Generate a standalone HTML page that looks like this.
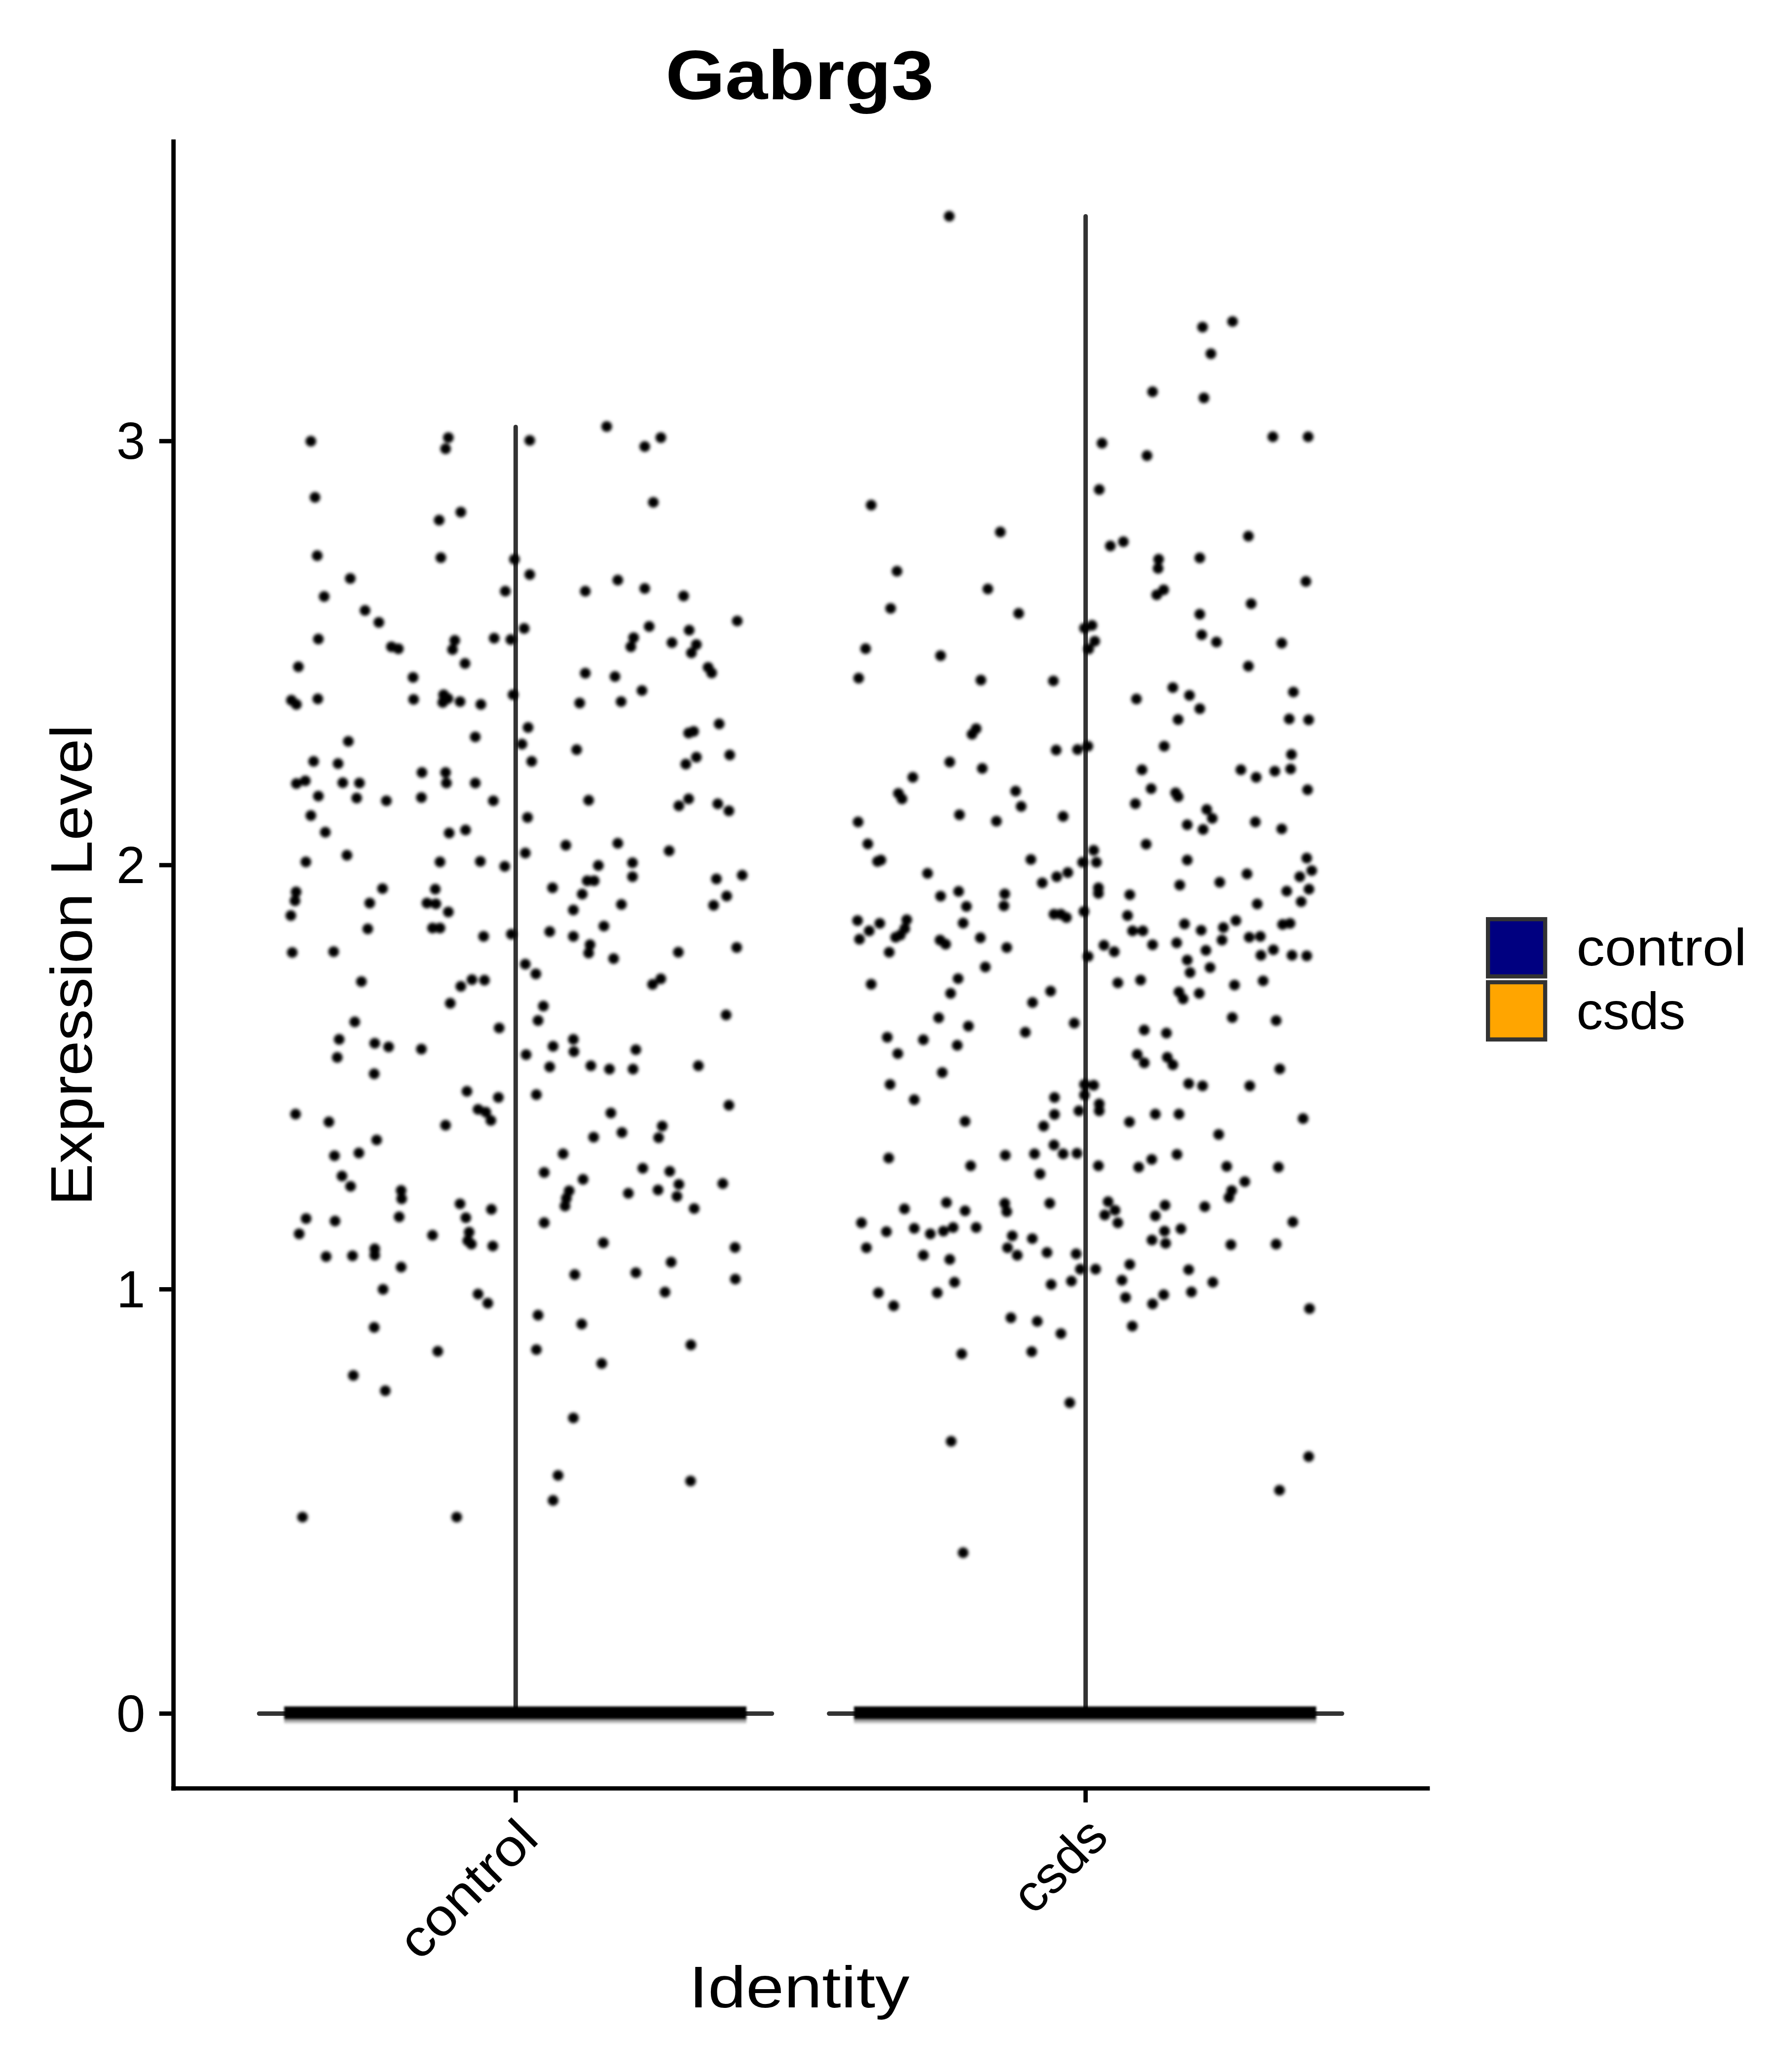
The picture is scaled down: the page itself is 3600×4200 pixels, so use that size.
<!DOCTYPE html>
<html><head><meta charset="utf-8"><style>
html,body{margin:0;padding:0;background:#fff;}
body{width:3600px;height:4200px;overflow:hidden;}
svg{display:block;}
text{font-family:"Liberation Sans",sans-serif;fill:#000;}
</style></head><body>
<svg width="3600" height="4200" viewBox="0 0 3600 4200">
<defs>
<filter id="bl" x="-50%" y="-50%" width="200%" height="200%"><feGaussianBlur stdDeviation="3.4"/></filter>
<linearGradient id="fr" x1="0" y1="0" x2="0" y2="1"><stop offset="0" stop-color="#000" stop-opacity="0.55"/><stop offset="1" stop-color="#000" stop-opacity="0.1"/></linearGradient>
<filter id="bl2" x="-5%" y="-100%" width="110%" height="300%"><feGaussianBlur stdDeviation="2.2"/></filter>
</defs>
<rect width="3600" height="4200" fill="#fff"/>
<!-- title -->
<text x="1621" y="201.4" text-anchor="middle" font-weight="bold" font-size="141" textLength="544" lengthAdjust="spacingAndGlyphs">Gabrg3</text>
<!-- y axis title -->
<text transform="translate(186,1956.4) rotate(-90)" text-anchor="middle" font-size="118" textLength="975" lengthAdjust="spacingAndGlyphs">Expression Level</text>
<!-- y tick labels -->
<g font-size="105" text-anchor="end">
<text x="294.5" y="930.2">3</text>
<text x="294.5" y="1789.7">2</text>
<text x="294.5" y="2649.5">1</text>
<text x="294.5" y="3509.5">0</text>
</g>
<!-- axes -->
<g fill="#000">
<rect x="347.3" y="282.6" width="8.8" height="3347"/>
<rect x="347.3" y="3620.8" width="2551" height="8.7"/>
<rect x="322.8" y="889.8" width="25" height="8.8"/>
<rect x="322.8" y="1749.3" width="25" height="8.8"/>
<rect x="322.8" y="2609.1" width="25" height="8.8"/>
<rect x="322.8" y="3469.1" width="25" height="8.8"/>
<rect x="1041" y="3629" width="8.7" height="24.6"/>
<rect x="2196.2" y="3629" width="8.7" height="24.6"/>
</g>
<!-- violins -->
<g stroke="#333333" stroke-width="9" stroke-linecap="round" fill="none">
<path d="M525.3 3473.5 H1564.7"/>
<path d="M1045.3 3473.5 V865.5"/>
<path d="M1680.6 3473.5 H2720.3"/>
<path d="M2200.6 3473.5 V438.5"/>
</g>
<!-- zero bands -->
<g filter="url(#bl2)">
<rect x="576" y="3459" width="937" height="25" fill="#000"/>
<rect x="576" y="3484" width="937" height="10" fill="url(#fr)"/>
<rect x="1731" y="3459" width="937" height="25" fill="#000"/>
<rect x="1731" y="3484" width="937" height="10" fill="url(#fr)"/>
</g>
<!-- dots -->
<g fill="#000" filter="url(#bl)"><circle cx="1924.1" cy="438.3" r="10.8"/><circle cx="2437.6" cy="663.0" r="10.8"/><circle cx="2498.4" cy="651.7" r="10.8"/><circle cx="2454.5" cy="717.0" r="10.8"/><circle cx="2336.3" cy="794.1" r="10.8"/><circle cx="2440.4" cy="806.5" r="10.8"/><circle cx="2233.8" cy="898.3" r="10.8"/><circle cx="2325.0" cy="923.6" r="10.8"/><circle cx="2580.1" cy="885.4" r="10.8"/><circle cx="2651.6" cy="885.4" r="10.8"/><circle cx="2228.2" cy="992.3" r="10.8"/><circle cx="1765.9" cy="1023.8" r="10.8"/><circle cx="2027.7" cy="1078.4" r="10.8"/><circle cx="2250.7" cy="1106.6" r="10.8"/><circle cx="2277.1" cy="1098.1" r="10.8"/><circle cx="2530.5" cy="1086.8" r="10.8"/><circle cx="2348.6" cy="1133.6" r="10.8"/><circle cx="2347.5" cy="1152.2" r="10.8"/><circle cx="2432.0" cy="1130.8" r="10.8"/><circle cx="1818.2" cy="1157.8" r="10.8"/><circle cx="2002.4" cy="1193.8" r="10.8"/><circle cx="2647.1" cy="1178.6" r="10.8"/><circle cx="2358.8" cy="1195.5" r="10.8"/><circle cx="2344.7" cy="1205.7" r="10.8"/><circle cx="1805.3" cy="1233.2" r="10.8"/><circle cx="2064.9" cy="1243.4" r="10.8"/><circle cx="2536.1" cy="1223.7" r="10.8"/><circle cx="2432.0" cy="1245.1" r="10.8"/><circle cx="2198.3" cy="1273.2" r="10.8"/><circle cx="2213.5" cy="1267.6" r="10.8"/><circle cx="2219.1" cy="1299.7" r="10.8"/><circle cx="2206.8" cy="1315.5" r="10.8"/><circle cx="2435.9" cy="1286.7" r="10.8"/><circle cx="2465.8" cy="1301.4" r="10.8"/><circle cx="2598.1" cy="1303.6" r="10.8"/><circle cx="1754.6" cy="1314.9" r="10.8"/><circle cx="1906.6" cy="1329.0" r="10.8"/><circle cx="2530.5" cy="1350.4" r="10.8"/><circle cx="1740.5" cy="1374.6" r="10.8"/><circle cx="1988.3" cy="1378.5" r="10.8"/><circle cx="2135.2" cy="1380.2" r="10.8"/><circle cx="2377.4" cy="1393.7" r="10.8"/><circle cx="2411.1" cy="1409.5" r="10.8"/><circle cx="2432.0" cy="1436.5" r="10.8"/><circle cx="2303.6" cy="1416.8" r="10.8"/><circle cx="2621.7" cy="1402.7" r="10.8"/><circle cx="2388.1" cy="1458.5" r="10.8"/><circle cx="2613.3" cy="1457.3" r="10.8"/><circle cx="2652.7" cy="1459.0" r="10.8"/><circle cx="1978.7" cy="1477.0" r="10.8"/><circle cx="1970.3" cy="1488.3" r="10.8"/><circle cx="2140.9" cy="1520.4" r="10.8"/><circle cx="2184.2" cy="1519.3" r="10.8"/><circle cx="2205.1" cy="1512.5" r="10.8"/><circle cx="2359.9" cy="1512.5" r="10.8"/><circle cx="2617.8" cy="1529.4" r="10.8"/><circle cx="1925.2" cy="1544.6" r="10.8"/><circle cx="1991.1" cy="1557.6" r="10.8"/><circle cx="2314.9" cy="1560.4" r="10.8"/><circle cx="2515.3" cy="1560.4" r="10.8"/><circle cx="2546.3" cy="1575.6" r="10.8"/><circle cx="2584.0" cy="1563.2" r="10.8"/><circle cx="2616.1" cy="1558.7" r="10.8"/><circle cx="1850.3" cy="1575.6" r="10.8"/><circle cx="1821.1" cy="1608.2" r="10.8"/><circle cx="1828.4" cy="1619.4" r="10.8"/><circle cx="2058.7" cy="1603.6" r="10.8"/><circle cx="2069.9" cy="1634.6" r="10.8"/><circle cx="2333.4" cy="1598.6" r="10.8"/><circle cx="2301.4" cy="1629.0" r="10.8"/><circle cx="2383.0" cy="1607.0" r="10.8"/><circle cx="2388.1" cy="1614.9" r="10.8"/><circle cx="2650.5" cy="1600.8" r="10.8"/><circle cx="1739.4" cy="1666.1" r="10.8"/><circle cx="1944.9" cy="1651.5" r="10.8"/><circle cx="2019.8" cy="1664.5" r="10.8"/><circle cx="2155.0" cy="1654.9" r="10.8"/><circle cx="2446.1" cy="1640.8" r="10.8"/><circle cx="2457.3" cy="1658.8" r="10.8"/><circle cx="2406.6" cy="1671.8" r="10.8"/><circle cx="2438.7" cy="1681.4" r="10.8"/><circle cx="2544.6" cy="1666.1" r="10.8"/><circle cx="2598.1" cy="1680.2" r="10.8"/><circle cx="1759.1" cy="1710.6" r="10.8"/><circle cx="2323.3" cy="1711.2" r="10.8"/><circle cx="1778.8" cy="1746.1" r="10.8"/><circle cx="1785.6" cy="1743.3" r="10.8"/><circle cx="2089.6" cy="1742.2" r="10.8"/><circle cx="2216.9" cy="1723.6" r="10.8"/><circle cx="2194.4" cy="1747.8" r="10.8"/><circle cx="2222.5" cy="1747.8" r="10.8"/><circle cx="2406.6" cy="1743.3" r="10.8"/><circle cx="2648.8" cy="1739.3" r="10.8"/><circle cx="1880.2" cy="1770.3" r="10.8"/><circle cx="2112.7" cy="1789.5" r="10.8"/><circle cx="2142.0" cy="1777.1" r="10.8"/><circle cx="2164.5" cy="1768.6" r="10.8"/><circle cx="2391.4" cy="1794.0" r="10.8"/><circle cx="2472.5" cy="1788.3" r="10.8"/><circle cx="2527.7" cy="1771.4" r="10.8"/><circle cx="2634.7" cy="1777.1" r="10.8"/><circle cx="2658.9" cy="1764.7" r="10.8"/><circle cx="1906.6" cy="1816.5" r="10.8"/><circle cx="1943.2" cy="1806.9" r="10.8"/><circle cx="1959.0" cy="1837.3" r="10.8"/><circle cx="2036.7" cy="1812.0" r="10.8"/><circle cx="2035.0" cy="1836.2" r="10.8"/><circle cx="2226.5" cy="1799.6" r="10.8"/><circle cx="2226.5" cy="1810.9" r="10.8"/><circle cx="2290.1" cy="1813.7" r="10.8"/><circle cx="2608.2" cy="1806.4" r="10.8"/><circle cx="2653.3" cy="1802.4" r="10.8"/><circle cx="2548.5" cy="1832.3" r="10.8"/><circle cx="2637.5" cy="1827.7" r="10.8"/><circle cx="1738.3" cy="1866.0" r="10.8"/><circle cx="1783.3" cy="1871.7" r="10.8"/><circle cx="1838.0" cy="1864.3" r="10.8"/><circle cx="1761.9" cy="1886.9" r="10.8"/><circle cx="1834.0" cy="1882.4" r="10.8"/><circle cx="1952.3" cy="1871.1" r="10.8"/><circle cx="2136.4" cy="1853.1" r="10.8"/><circle cx="2150.5" cy="1853.1" r="10.8"/><circle cx="2161.7" cy="1859.8" r="10.8"/><circle cx="2197.2" cy="1847.5" r="10.8"/><circle cx="2285.6" cy="1855.9" r="10.8"/><circle cx="2401.0" cy="1872.8" r="10.8"/><circle cx="2434.8" cy="1885.7" r="10.8"/><circle cx="2479.8" cy="1880.1" r="10.8"/><circle cx="2505.2" cy="1866.0" r="10.8"/><circle cx="2599.8" cy="1873.9" r="10.8"/><circle cx="2615.0" cy="1871.7" r="10.8"/><circle cx="1742.2" cy="1903.8" r="10.8"/><circle cx="1815.4" cy="1899.8" r="10.8"/><circle cx="1825.0" cy="1895.3" r="10.8"/><circle cx="1905.5" cy="1905.5" r="10.8"/><circle cx="1916.8" cy="1913.9" r="10.8"/><circle cx="1987.2" cy="1900.9" r="10.8"/><circle cx="2040.7" cy="1920.7" r="10.8"/><circle cx="2295.7" cy="1886.9" r="10.8"/><circle cx="2316.6" cy="1886.9" r="10.8"/><circle cx="2336.3" cy="1915.0" r="10.8"/><circle cx="2385.2" cy="1911.1" r="10.8"/><circle cx="2477.0" cy="1905.5" r="10.8"/><circle cx="2532.2" cy="1899.8" r="10.8"/><circle cx="2554.7" cy="1898.1" r="10.8"/><circle cx="1802.5" cy="1930.2" r="10.8"/><circle cx="2205.6" cy="1938.7" r="10.8"/><circle cx="2237.7" cy="1916.1" r="10.8"/><circle cx="2258.6" cy="1929.1" r="10.8"/><circle cx="2444.4" cy="1926.3" r="10.8"/><circle cx="2555.9" cy="1936.4" r="10.8"/><circle cx="2581.2" cy="1925.2" r="10.8"/><circle cx="2618.9" cy="1936.4" r="10.8"/><circle cx="2648.8" cy="1937.5" r="10.8"/><circle cx="1997.3" cy="1960.1" r="10.8"/><circle cx="2406.6" cy="1946.0" r="10.8"/><circle cx="2452.8" cy="1961.2" r="10.8"/><circle cx="2412.3" cy="1971.3" r="10.8"/><circle cx="1765.9" cy="1995.0" r="10.8"/><circle cx="1942.1" cy="1983.7" r="10.8"/><circle cx="2265.9" cy="1992.2" r="10.8"/><circle cx="2312.0" cy="1986.5" r="10.8"/><circle cx="2502.4" cy="1996.7" r="10.8"/><circle cx="2560.4" cy="1988.2" r="10.8"/><circle cx="1926.9" cy="2013.6" r="10.8"/><circle cx="2129.6" cy="2009.1" r="10.8"/><circle cx="2389.8" cy="2010.7" r="10.8"/><circle cx="2398.2" cy="2024.8" r="10.8"/><circle cx="2430.9" cy="2013.6" r="10.8"/><circle cx="2093.0" cy="2032.1" r="10.8"/><circle cx="1902.7" cy="2063.1" r="10.8"/><circle cx="2177.5" cy="2073.8" r="10.8"/><circle cx="2497.9" cy="2062.5" r="10.8"/><circle cx="2586.8" cy="2068.7" r="10.8"/><circle cx="1963.0" cy="2080.0" r="10.8"/><circle cx="1798.5" cy="2102.5" r="10.8"/><circle cx="1871.7" cy="2107.6" r="10.8"/><circle cx="2078.4" cy="2092.4" r="10.8"/><circle cx="2319.4" cy="2087.9" r="10.8"/><circle cx="2364.4" cy="2094.1" r="10.8"/><circle cx="1819.9" cy="2135.7" r="10.8"/><circle cx="1940.4" cy="2118.9" r="10.8"/><circle cx="2305.3" cy="2137.4" r="10.8"/><circle cx="2319.4" cy="2154.3" r="10.8"/><circle cx="2366.1" cy="2143.1" r="10.8"/><circle cx="2377.4" cy="2158.3" r="10.8"/><circle cx="2594.1" cy="2166.7" r="10.8"/><circle cx="1910.0" cy="2174.0" r="10.8"/><circle cx="1804.2" cy="2198.2" r="10.8"/><circle cx="1853.2" cy="2229.1" r="10.8"/><circle cx="1956.2" cy="2273.0" r="10.8"/><circle cx="2137.5" cy="2224.6" r="10.8"/><circle cx="2137.5" cy="2259.0" r="10.8"/><circle cx="2115.5" cy="2282.6" r="10.8"/><circle cx="2198.3" cy="2198.2" r="10.8"/><circle cx="2216.9" cy="2199.8" r="10.8"/><circle cx="2198.3" cy="2219.5" r="10.8"/><circle cx="2187.0" cy="2251.6" r="10.8"/><circle cx="2228.2" cy="2237.6" r="10.8"/><circle cx="2228.2" cy="2251.6" r="10.8"/><circle cx="2409.5" cy="2196.5" r="10.8"/><circle cx="2437.6" cy="2201.0" r="10.8"/><circle cx="2533.3" cy="2201.0" r="10.8"/><circle cx="2341.9" cy="2258.4" r="10.8"/><circle cx="2389.8" cy="2258.4" r="10.8"/><circle cx="2289.5" cy="2274.2" r="10.8"/><circle cx="2641.4" cy="2267.4" r="10.8"/><circle cx="2470.3" cy="2299.5" r="10.8"/><circle cx="1801.4" cy="2347.4" r="10.8"/><circle cx="1967.5" cy="2363.1" r="10.8"/><circle cx="2037.8" cy="2341.7" r="10.8"/><circle cx="2097.0" cy="2338.9" r="10.8"/><circle cx="2136.4" cy="2320.9" r="10.8"/><circle cx="2155.0" cy="2338.9" r="10.8"/><circle cx="2183.1" cy="2337.8" r="10.8"/><circle cx="2108.2" cy="2379.5" r="10.8"/><circle cx="2226.5" cy="2363.1" r="10.8"/><circle cx="2308.1" cy="2365.9" r="10.8"/><circle cx="2334.6" cy="2350.2" r="10.8"/><circle cx="2385.8" cy="2340.0" r="10.8"/><circle cx="2486.6" cy="2364.3" r="10.8"/><circle cx="2591.3" cy="2365.9" r="10.8"/><circle cx="2523.2" cy="2395.2" r="10.8"/><circle cx="2496.7" cy="2413.2" r="10.8"/><circle cx="2491.1" cy="2427.3" r="10.8"/><circle cx="1833.4" cy="2450.4" r="10.8"/><circle cx="1918.5" cy="2437.5" r="10.8"/><circle cx="1956.2" cy="2454.3" r="10.8"/><circle cx="2036.7" cy="2439.1" r="10.8"/><circle cx="2040.7" cy="2456.0" r="10.8"/><circle cx="2127.9" cy="2439.1" r="10.8"/><circle cx="2246.2" cy="2435.8" r="10.8"/><circle cx="2260.2" cy="2453.2" r="10.8"/><circle cx="2239.4" cy="2462.8" r="10.8"/><circle cx="2265.9" cy="2478.6" r="10.8"/><circle cx="2361.6" cy="2443.1" r="10.8"/><circle cx="2341.9" cy="2464.5" r="10.8"/><circle cx="2442.1" cy="2445.9" r="10.8"/><circle cx="2620.6" cy="2476.9" r="10.8"/><circle cx="1746.2" cy="2478.6" r="10.8"/><circle cx="1796.8" cy="2496.6" r="10.8"/><circle cx="1853.2" cy="2489.8" r="10.8"/><circle cx="1885.8" cy="2501.1" r="10.8"/><circle cx="1912.3" cy="2495.5" r="10.8"/><circle cx="1932.0" cy="2488.1" r="10.8"/><circle cx="1978.7" cy="2488.1" r="10.8"/><circle cx="2051.9" cy="2505.0" r="10.8"/><circle cx="2092.5" cy="2510.7" r="10.8"/><circle cx="2360.5" cy="2495.5" r="10.8"/><circle cx="2393.7" cy="2490.9" r="10.8"/><circle cx="2335.1" cy="2513.5" r="10.8"/><circle cx="2362.7" cy="2520.2" r="10.8"/><circle cx="2495.0" cy="2523.0" r="10.8"/><circle cx="2586.8" cy="2521.9" r="10.8"/><circle cx="1756.3" cy="2529.2" r="10.8"/><circle cx="1871.7" cy="2544.4" r="10.8"/><circle cx="1925.2" cy="2552.9" r="10.8"/><circle cx="2042.3" cy="2529.2" r="10.8"/><circle cx="2062.0" cy="2544.4" r="10.8"/><circle cx="2122.3" cy="2538.8" r="10.8"/><circle cx="2181.4" cy="2541.6" r="10.8"/><circle cx="2189.9" cy="2572.6" r="10.8"/><circle cx="2220.8" cy="2572.6" r="10.8"/><circle cx="2290.1" cy="2563.0" r="10.8"/><circle cx="2409.5" cy="2573.7" r="10.8"/><circle cx="1934.8" cy="2599.1" r="10.8"/><circle cx="2130.7" cy="2603.6" r="10.8"/><circle cx="2171.8" cy="2596.8" r="10.8"/><circle cx="2274.3" cy="2595.1" r="10.8"/><circle cx="2458.4" cy="2599.1" r="10.8"/><circle cx="1780.5" cy="2620.5" r="10.8"/><circle cx="1899.9" cy="2620.5" r="10.8"/><circle cx="2358.8" cy="2624.4" r="10.8"/><circle cx="2281.6" cy="2630.0" r="10.8"/><circle cx="2336.3" cy="2643.0" r="10.8"/><circle cx="2415.1" cy="2618.8" r="10.8"/><circle cx="1811.5" cy="2646.9" r="10.8"/><circle cx="2654.4" cy="2652.5" r="10.8"/><circle cx="2049.1" cy="2671.1" r="10.8"/><circle cx="2102.6" cy="2678.4" r="10.8"/><circle cx="2150.5" cy="2703.2" r="10.8"/><circle cx="2295.2" cy="2688.0" r="10.8"/><circle cx="1949.4" cy="2744.3" r="10.8"/><circle cx="2091.3" cy="2739.8" r="10.8"/><circle cx="2168.5" cy="2843.3" r="10.8"/><circle cx="1928.0" cy="2921.6" r="10.8"/><circle cx="2652.7" cy="2952.6" r="10.8"/><circle cx="2593.6" cy="3020.7" r="10.8"/><circle cx="1952.3" cy="3147.4" r="10.8"/><circle cx="630.1" cy="894.4" r="10.8"/><circle cx="908.8" cy="887.0" r="10.8"/><circle cx="903.2" cy="909.6" r="10.8"/><circle cx="1073.8" cy="892.7" r="10.8"/><circle cx="1229.8" cy="864.5" r="10.8"/><circle cx="1306.9" cy="905.1" r="10.8"/><circle cx="1339.5" cy="887.0" r="10.8"/><circle cx="638.5" cy="1008.1" r="10.8"/><circle cx="934.1" cy="1038.0" r="10.8"/><circle cx="890.2" cy="1054.3" r="10.8"/><circle cx="1324.3" cy="1018.2" r="10.8"/><circle cx="643.0" cy="1126.4" r="10.8"/><circle cx="893.6" cy="1130.3" r="10.8"/><circle cx="1042.8" cy="1133.7" r="10.8"/><circle cx="1073.8" cy="1164.6" r="10.8"/><circle cx="710.0" cy="1172.5" r="10.8"/><circle cx="657.1" cy="1209.1" r="10.8"/><circle cx="1024.2" cy="1198.4" r="10.8"/><circle cx="1186.4" cy="1198.4" r="10.8"/><circle cx="1252.3" cy="1175.9" r="10.8"/><circle cx="1306.9" cy="1192.8" r="10.8"/><circle cx="1385.7" cy="1208.0" r="10.8"/><circle cx="739.9" cy="1237.3" r="10.8"/><circle cx="768.0" cy="1261.5" r="10.8"/><circle cx="1062.5" cy="1273.9" r="10.8"/><circle cx="1315.9" cy="1269.9" r="10.8"/><circle cx="1397.0" cy="1277.3" r="10.8"/><circle cx="1494.4" cy="1258.7" r="10.8"/><circle cx="645.3" cy="1295.3" r="10.8"/><circle cx="793.4" cy="1311.0" r="10.8"/><circle cx="807.5" cy="1315.0" r="10.8"/><circle cx="921.8" cy="1298.1" r="10.8"/><circle cx="917.3" cy="1316.7" r="10.8"/><circle cx="1001.7" cy="1293.6" r="10.8"/><circle cx="1035.5" cy="1296.4" r="10.8"/><circle cx="1284.4" cy="1292.5" r="10.8"/><circle cx="1278.7" cy="1311.0" r="10.8"/><circle cx="1362.1" cy="1302.6" r="10.8"/><circle cx="1411.6" cy="1306.5" r="10.8"/><circle cx="1401.5" cy="1323.4" r="10.8"/><circle cx="604.8" cy="1351.6" r="10.8"/><circle cx="942.6" cy="1344.8" r="10.8"/><circle cx="837.3" cy="1373.0" r="10.8"/><circle cx="1186.4" cy="1364.5" r="10.8"/><circle cx="1246.6" cy="1371.3" r="10.8"/><circle cx="1435.3" cy="1352.7" r="10.8"/><circle cx="1442.6" cy="1364.0" r="10.8"/><circle cx="590.7" cy="1419.4" r="10.8"/><circle cx="600.8" cy="1427.9" r="10.8"/><circle cx="644.2" cy="1416.6" r="10.8"/><circle cx="838.4" cy="1417.7" r="10.8"/><circle cx="899.2" cy="1408.2" r="10.8"/><circle cx="897.5" cy="1423.9" r="10.8"/><circle cx="932.5" cy="1422.2" r="10.8"/><circle cx="974.7" cy="1427.9" r="10.8"/><circle cx="1040.0" cy="1408.2" r="10.8"/><circle cx="1175.1" cy="1425.0" r="10.8"/><circle cx="1259.0" cy="1422.2" r="10.8"/><circle cx="1301.3" cy="1399.7" r="10.8"/><circle cx="1070.4" cy="1474.6" r="10.8"/><circle cx="1395.9" cy="1485.9" r="10.8"/><circle cx="1406.0" cy="1482.5" r="10.8"/><circle cx="1457.8" cy="1467.3" r="10.8"/><circle cx="706.1" cy="1502.7" r="10.8"/><circle cx="963.4" cy="1493.7" r="10.8"/><circle cx="1058.0" cy="1508.4" r="10.8"/><circle cx="1168.9" cy="1519.6" r="10.8"/><circle cx="1479.2" cy="1530.3" r="10.8"/><circle cx="1411.6" cy="1534.8" r="10.8"/><circle cx="1390.2" cy="1548.9" r="10.8"/><circle cx="635.7" cy="1543.3" r="10.8"/><circle cx="685.3" cy="1547.8" r="10.8"/><circle cx="1077.7" cy="1543.3" r="10.8"/><circle cx="855.3" cy="1565.8" r="10.8"/><circle cx="903.2" cy="1565.8" r="10.8"/><circle cx="904.9" cy="1587.2" r="10.8"/><circle cx="600.8" cy="1588.3" r="10.8"/><circle cx="618.8" cy="1582.7" r="10.8"/><circle cx="694.8" cy="1586.6" r="10.8"/><circle cx="728.6" cy="1587.2" r="10.8"/><circle cx="963.4" cy="1587.2" r="10.8"/><circle cx="645.3" cy="1613.7" r="10.8"/><circle cx="723.0" cy="1617.6" r="10.8"/><circle cx="783.2" cy="1623.2" r="10.8"/><circle cx="854.2" cy="1616.5" r="10.8"/><circle cx="1000.0" cy="1623.2" r="10.8"/><circle cx="1193.2" cy="1622.1" r="10.8"/><circle cx="1395.9" cy="1619.3" r="10.8"/><circle cx="1376.1" cy="1633.4" r="10.8"/><circle cx="1455.0" cy="1629.4" r="10.8"/><circle cx="1477.5" cy="1643.5" r="10.8"/><circle cx="630.1" cy="1653.1" r="10.8"/><circle cx="1069.3" cy="1657.0" r="10.8"/><circle cx="659.4" cy="1686.9" r="10.8"/><circle cx="910.5" cy="1688.6" r="10.8"/><circle cx="943.7" cy="1682.4" r="10.8"/><circle cx="1147.0" cy="1713.3" r="10.8"/><circle cx="1252.3" cy="1709.4" r="10.8"/><circle cx="1356.4" cy="1724.6" r="10.8"/><circle cx="1064.8" cy="1729.1" r="10.8"/><circle cx="620.0" cy="1747.1" r="10.8"/><circle cx="703.3" cy="1733.6" r="10.8"/><circle cx="891.9" cy="1747.1" r="10.8"/><circle cx="973.6" cy="1746.0" r="10.8"/><circle cx="1023.1" cy="1756.1" r="10.8"/><circle cx="1212.9" cy="1754.4" r="10.8"/><circle cx="1282.1" cy="1748.8" r="10.8"/><circle cx="1282.1" cy="1777.0" r="10.8"/><circle cx="1190.3" cy="1785.4" r="10.8"/><circle cx="1204.4" cy="1785.4" r="10.8"/><circle cx="1452.2" cy="1781.5" r="10.8"/><circle cx="1504.5" cy="1774.1" r="10.8"/><circle cx="600.2" cy="1807.9" r="10.8"/><circle cx="598.0" cy="1825.9" r="10.8"/><circle cx="775.4" cy="1801.2" r="10.8"/><circle cx="882.3" cy="1802.3" r="10.8"/><circle cx="1120.0" cy="1799.5" r="10.8"/><circle cx="1180.2" cy="1812.4" r="10.8"/><circle cx="1473.0" cy="1816.4" r="10.8"/><circle cx="589.5" cy="1855.8" r="10.8"/><circle cx="749.5" cy="1830.5" r="10.8"/><circle cx="865.5" cy="1830.5" r="10.8"/><circle cx="883.5" cy="1832.1" r="10.8"/><circle cx="908.8" cy="1848.5" r="10.8"/><circle cx="1162.2" cy="1844.5" r="10.8"/><circle cx="1259.6" cy="1833.3" r="10.8"/><circle cx="1446.5" cy="1835.0" r="10.8"/><circle cx="745.5" cy="1882.8" r="10.8"/><circle cx="876.7" cy="1881.1" r="10.8"/><circle cx="891.9" cy="1881.1" r="10.8"/><circle cx="980.3" cy="1898.0" r="10.8"/><circle cx="1036.6" cy="1893.5" r="10.8"/><circle cx="1114.3" cy="1888.4" r="10.8"/><circle cx="1162.2" cy="1898.0" r="10.8"/><circle cx="1224.1" cy="1877.2" r="10.8"/><circle cx="1196.0" cy="1914.9" r="10.8"/><circle cx="1193.2" cy="1931.8" r="10.8"/><circle cx="592.4" cy="1930.7" r="10.8"/><circle cx="676.3" cy="1929.0" r="10.8"/><circle cx="1243.8" cy="1943.1" r="10.8"/><circle cx="1375.0" cy="1930.1" r="10.8"/><circle cx="1493.3" cy="1920.5" r="10.8"/><circle cx="1064.8" cy="1954.3" r="10.8"/><circle cx="1086.2" cy="1974.0" r="10.8"/><circle cx="732.6" cy="1989.7" r="10.8"/><circle cx="934.1" cy="1999.3" r="10.8"/><circle cx="956.7" cy="1985.8" r="10.8"/><circle cx="982.0" cy="1986.9" r="10.8"/><circle cx="1322.7" cy="1995.3" r="10.8"/><circle cx="1339.5" cy="1984.1" r="10.8"/><circle cx="912.7" cy="2033.6" r="10.8"/><circle cx="1101.4" cy="2039.3" r="10.8"/><circle cx="1471.9" cy="2057.3" r="10.8"/><circle cx="719.1" cy="2071.4" r="10.8"/><circle cx="1090.7" cy="2068.5" r="10.8"/><circle cx="1011.8" cy="2083.7" r="10.8"/><circle cx="687.5" cy="2106.8" r="10.8"/><circle cx="759.6" cy="2114.7" r="10.8"/><circle cx="787.7" cy="2122.0" r="10.8"/><circle cx="854.2" cy="2126.5" r="10.8"/><circle cx="683.6" cy="2143.4" r="10.8"/><circle cx="1066.5" cy="2137.8" r="10.8"/><circle cx="1121.1" cy="2120.9" r="10.8"/><circle cx="1162.2" cy="2106.8" r="10.8"/><circle cx="1163.3" cy="2131.6" r="10.8"/><circle cx="1288.9" cy="2127.7" r="10.8"/><circle cx="1114.3" cy="2162.6" r="10.8"/><circle cx="1197.7" cy="2160.3" r="10.8"/><circle cx="1235.4" cy="2167.1" r="10.8"/><circle cx="1283.2" cy="2167.1" r="10.8"/><circle cx="1415.6" cy="2160.3" r="10.8"/><circle cx="758.5" cy="2176.6" r="10.8"/><circle cx="946.5" cy="2212.1" r="10.8"/><circle cx="1010.2" cy="2224.5" r="10.8"/><circle cx="1087.3" cy="2218.9" r="10.8"/><circle cx="1477.5" cy="2240.3" r="10.8"/><circle cx="599.1" cy="2258.3" r="10.8"/><circle cx="666.7" cy="2274.1" r="10.8"/><circle cx="969.1" cy="2248.7" r="10.8"/><circle cx="984.8" cy="2254.3" r="10.8"/><circle cx="995.0" cy="2271.2" r="10.8"/><circle cx="903.2" cy="2280.8" r="10.8"/><circle cx="1238.2" cy="2256.0" r="10.8"/><circle cx="1342.4" cy="2282.5" r="10.8"/><circle cx="1335.0" cy="2306.1" r="10.8"/><circle cx="1203.3" cy="2305.0" r="10.8"/><circle cx="1260.7" cy="2295.5" r="10.8"/><circle cx="763.5" cy="2310.7" r="10.8"/><circle cx="678.0" cy="2342.7" r="10.8"/><circle cx="727.5" cy="2337.1" r="10.8"/><circle cx="1141.4" cy="2338.8" r="10.8"/><circle cx="1303.0" cy="2368.1" r="10.8"/><circle cx="1357.6" cy="2374.3" r="10.8"/><circle cx="693.2" cy="2383.9" r="10.8"/><circle cx="710.6" cy="2404.7" r="10.8"/><circle cx="1103.1" cy="2376.5" r="10.8"/><circle cx="1181.9" cy="2390.6" r="10.8"/><circle cx="1376.1" cy="2400.7" r="10.8"/><circle cx="1372.2" cy="2425.0" r="10.8"/><circle cx="1333.9" cy="2412.0" r="10.8"/><circle cx="1273.7" cy="2418.8" r="10.8"/><circle cx="1465.1" cy="2399.1" r="10.8"/><circle cx="813.1" cy="2413.1" r="10.8"/><circle cx="814.2" cy="2430.0" r="10.8"/><circle cx="1153.7" cy="2413.7" r="10.8"/><circle cx="1148.1" cy="2428.9" r="10.8"/><circle cx="1145.3" cy="2444.7" r="10.8"/><circle cx="932.5" cy="2440.2" r="10.8"/><circle cx="996.1" cy="2451.4" r="10.8"/><circle cx="1407.1" cy="2449.7" r="10.8"/><circle cx="620.5" cy="2470.0" r="10.8"/><circle cx="679.1" cy="2475.1" r="10.8"/><circle cx="809.1" cy="2466.6" r="10.8"/><circle cx="944.3" cy="2468.3" r="10.8"/><circle cx="1103.1" cy="2478.4" r="10.8"/><circle cx="606.4" cy="2501.0" r="10.8"/><circle cx="876.7" cy="2503.8" r="10.8"/><circle cx="951.0" cy="2497.6" r="10.8"/><circle cx="948.2" cy="2515.0" r="10.8"/><circle cx="955.5" cy="2521.8" r="10.8"/><circle cx="998.9" cy="2525.7" r="10.8"/><circle cx="1223.0" cy="2519.0" r="10.8"/><circle cx="1489.9" cy="2528.6" r="10.8"/><circle cx="661.1" cy="2547.1" r="10.8"/><circle cx="714.5" cy="2545.5" r="10.8"/><circle cx="759.6" cy="2531.4" r="10.8"/><circle cx="759.6" cy="2544.3" r="10.8"/><circle cx="1360.4" cy="2558.4" r="10.8"/><circle cx="813.1" cy="2568.4" r="10.8"/><circle cx="1165.0" cy="2583.6" r="10.8"/><circle cx="1288.9" cy="2579.7" r="10.8"/><circle cx="1490.5" cy="2592.7" r="10.8"/><circle cx="776.5" cy="2613.5" r="10.8"/><circle cx="969.1" cy="2623.1" r="10.8"/><circle cx="988.8" cy="2641.6" r="10.8"/><circle cx="1348.0" cy="2619.1" r="10.8"/><circle cx="1090.7" cy="2665.9" r="10.8"/><circle cx="1179.1" cy="2683.9" r="10.8"/><circle cx="758.5" cy="2690.6" r="10.8"/><circle cx="887.4" cy="2739.1" r="10.8"/><circle cx="1087.3" cy="2735.7" r="10.8"/><circle cx="1400.4" cy="2726.1" r="10.8"/><circle cx="1219.6" cy="2763.8" r="10.8"/><circle cx="716.2" cy="2788.0" r="10.8"/><circle cx="781.0" cy="2819.0" r="10.8"/><circle cx="1162.2" cy="2874.2" r="10.8"/><circle cx="1131.2" cy="2990.7" r="10.8"/><circle cx="1399.8" cy="3002.0" r="10.8"/><circle cx="1121.1" cy="3041.4" r="10.8"/><circle cx="613.2" cy="3075.2" r="10.8"/><circle cx="925.7" cy="3075.2" r="10.8"/><circle cx="908.0" cy="1416.0" r="10.8"/></g>
<!-- x tick labels -->
<text transform="translate(1096,3732) rotate(-45)" text-anchor="end" font-size="105" textLength="347" lengthAdjust="spacingAndGlyphs">control</text>
<text transform="translate(2251,3728) rotate(-45)" text-anchor="end" font-size="105" textLength="221" lengthAdjust="spacingAndGlyphs">csds</text>
<!-- x axis title -->
<text x="1620" y="4069" text-anchor="middle" font-size="118" textLength="447" lengthAdjust="spacingAndGlyphs">Identity</text>
<!-- legend -->
<rect x="3016.2" y="1863.2" width="115.9" height="116" fill="#000080" stroke="#333333" stroke-width="8.4"/>
<rect x="3016.2" y="1991" width="115.9" height="116" fill="#FFA500" stroke="#333333" stroke-width="8.4"/>
<text x="3195.5" y="1957" font-size="105" textLength="345" lengthAdjust="spacingAndGlyphs">control</text>
<text x="3195.5" y="2086" font-size="105" textLength="221" lengthAdjust="spacingAndGlyphs">csds</text>
</svg>
</body></html>
